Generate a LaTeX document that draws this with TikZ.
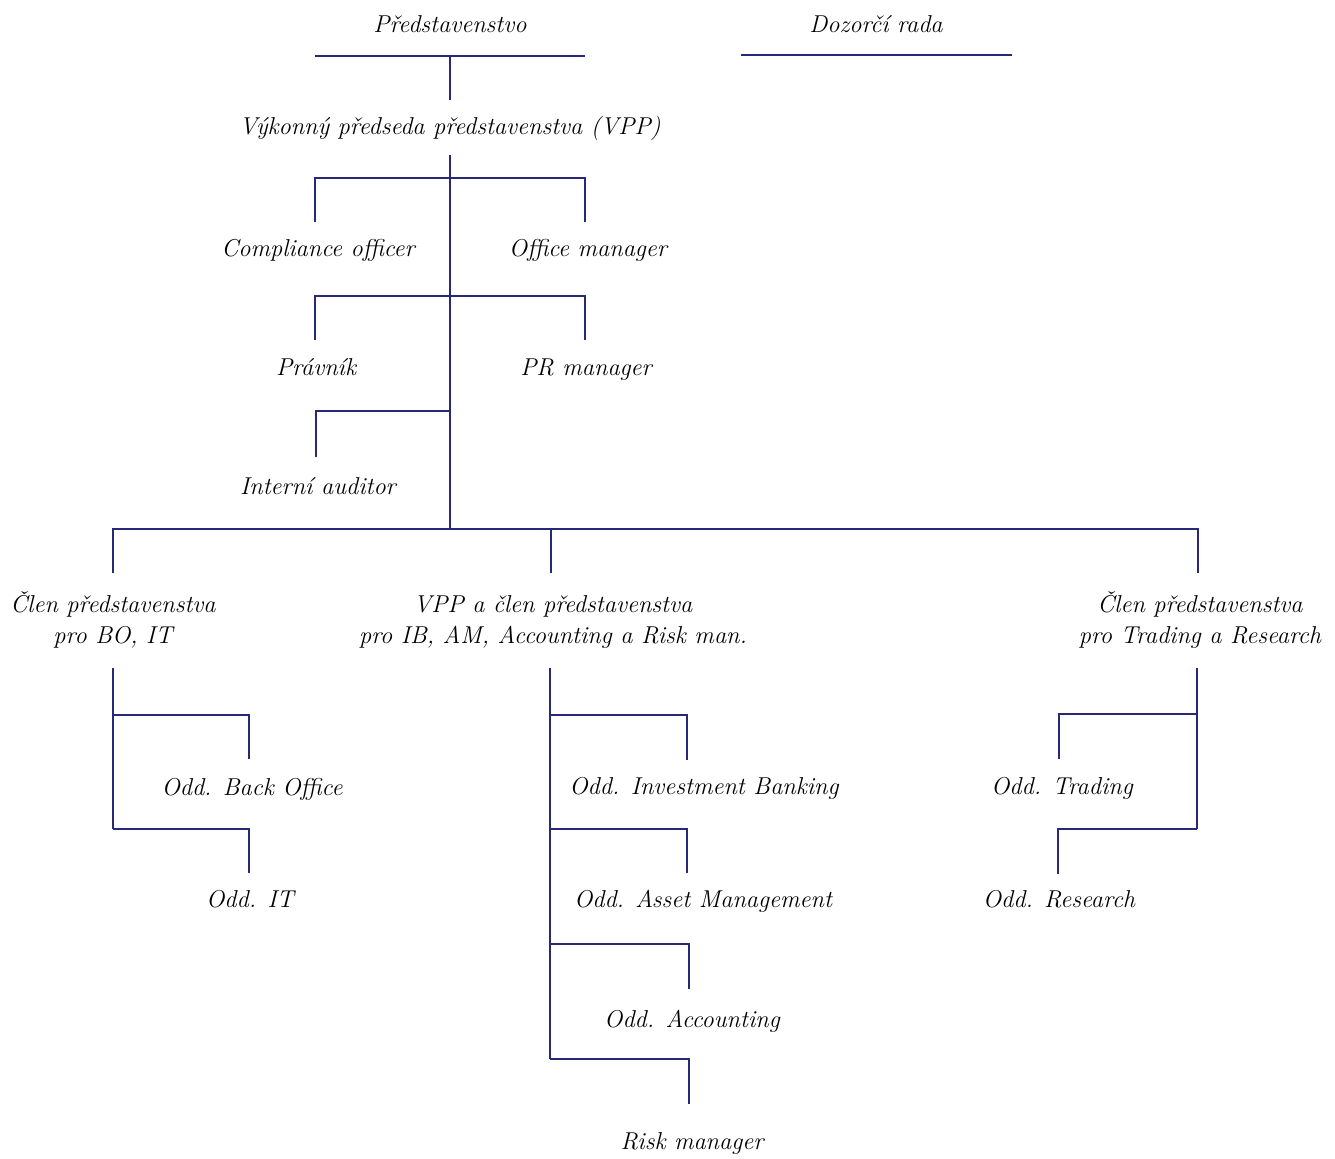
\documentclass[tikz,border=0pt]{standalone}
\usepackage{fontspec}
\definecolor{navy}{RGB}{40,40,120}
\begin{document}
\begin{tikzpicture}[x=0.75pt,y=-0.75pt,
  lbl/.style={font=\fontsize{18.3}{23.25}\selectfont\itshape, inner sep=0pt, anchor=base, align=center},
  ln/.style={draw=navy, line width=0.8pt}]
\useasboundingbox (0,0) rectangle (1335,1158);
% labels
\node[lbl] (pred) at (450,32) {Představenstvo};
\node[lbl] (dozor) at (876,32) {Dozorčí rada};
\node[lbl] (vpp) at (450,134) {Výkonný předseda představenstva (VPP)};
\node[lbl] (comp) at (318,256) {Compliance officer};
\node[lbl] (office) at (588,256) {Office manager};
\node[lbl] (prav) at (316,375) {Právník};
\node[lbl] (pr) at (586,375) {PR manager};
\node[lbl] (aud) at (318,494) {Interní auditor};
\node[lbl] (clen1) at (113,643) {Člen představenstva\\pro BO, IT};
\node[lbl] (clen2) at (553,643) {VPP a člen představenstva\\pro IB, AM, Accounting a Risk man.};
\node[lbl] (clen3) at (1200,643) {Člen představenstva\\pro Trading a Research};
\node[lbl] (bo) at (252,795) {Odd. Back Office};
\node[lbl] (it) at (250,907) {Odd. IT};
\node[lbl] (ib) at (704,794) {Odd. Investment Banking};
\node[lbl] (am) at (703,907) {Odd. Asset Management};
\node[lbl] (acc) at (692,1027) {Odd. Accounting};
\node[lbl] (risk) at (692,1149) {Risk manager};
\node[lbl] (trad) at (1062,794) {Odd. Trading};
\node[lbl] (res) at (1059,907) {Odd. Research};
% top rules
\draw[ln] (315,56) -- (585,56);
\draw[ln] (741,55) -- (1012,55);
\draw[ln] (450,56) -- (450,100);
% trunk
\draw[ln] (450,155) -- (450,529);
\draw[ln] (315,222) -- (315,178) -- (585,178) -- (585,222);
\draw[ln] (315,340) -- (315,296) -- (585,296) -- (585,340);
\draw[ln] (316,457) -- (316,411) -- (450,411);
\draw[ln] (113,573) -- (113,529) -- (1198,529) -- (1198,573);
\draw[ln] (551,529) -- (551,573);
% left branch
\draw[ln] (113,668) -- (113,829);
\draw[ln] (113,715) -- (249,715) -- (249,759);
\draw[ln] (113,829) -- (249,829) -- (249,873);
% middle branch
\draw[ln] (550,668) -- (550,1059);
\draw[ln] (550,715) -- (687,715) -- (687,760);
\draw[ln] (550,829) -- (687,829) -- (687,873);
\draw[ln] (550,944) -- (689,944) -- (689,989);
\draw[ln] (550,1059) -- (689,1059) -- (689,1104);
% right branch
\draw[ln] (1197,668) -- (1197,829);
\draw[ln] (1197,714) -- (1059,714) -- (1059,759);
\draw[ln] (1197,829) -- (1058,829) -- (1058,874);
\end{tikzpicture}
\end{document}
